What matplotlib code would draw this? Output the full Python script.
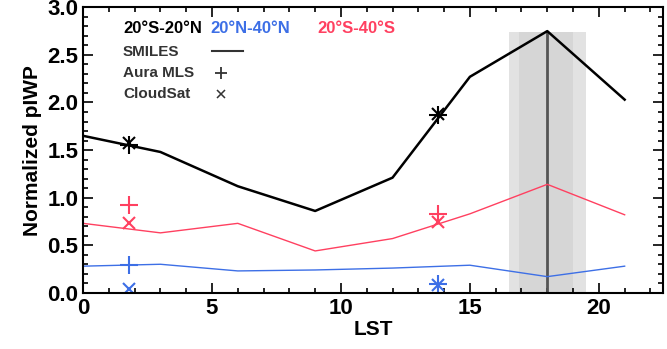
import matplotlib.pyplot as plt
from matplotlib.ticker import MultipleLocator

plt.rcParams['font.family'] = ['Liberation Sans', 'DejaVu Sans']
plt.rcParams['font.weight'] = 'bold'

# SMILES diurnal cycle, 3-hourly local solar time
lst = [0, 3, 6, 9, 12, 15, 18, 21]
smiles_trop = [1.65, 1.48, 1.12, 0.86, 1.21, 2.27, 2.75, 2.03]
smiles_nh = [0.28, 0.30, 0.23, 0.24, 0.26, 0.29, 0.17, 0.28]
smiles_sh = [0.73, 0.63, 0.73, 0.44, 0.57, 0.83, 1.14, 0.82]

# Aura MLS and CloudSat overpass times
overpass = [1.8, 13.75]
mls_trop = [1.55, 1.87]
mls_nh = [0.29, 0.09]
mls_sh = [0.92, 0.83]
cs_trop = [1.57, 1.88]
cs_nh = [0.04, 0.08]
cs_sh = [0.73, 0.74]

peak_lst = 18
band = (16.5, 19.5)
band_top = 2.74

BLACK = 'black'
BLUE = '#3d6fe6'
RED = '#ff4060'

fig = plt.figure(figsize=(6.67, 3.49), dpi=100)
ax = fig.add_axes([0.1245, 0.161, 0.870, 0.818])

ax.axvspan(band[0], band[1], ymax=band_top / 3.0, color='#e2e2e2', lw=0)
ax.axvspan(band[0] + 0.4, band[1] - 0.5, ymax=band_top / 3.0, color='#d6d6d6', lw=0)
ax.plot([peak_lst, peak_lst], [0, band_top], color='#555555', lw=2)

ax.plot(lst, smiles_trop, color=BLACK, lw=1.8)
ax.plot(lst, smiles_nh, color=BLUE, lw=1.0)
ax.plot(lst, smiles_sh, color=RED, lw=1.0)

for vals, c in [(mls_trop, BLACK), (mls_nh, BLUE), (mls_sh, RED)]:
    ax.plot(overpass, vals, ls='none', marker='+', ms=13, mew=1.5, color=c)
for vals, c in [(cs_trop, BLACK), (cs_nh, BLUE), (cs_sh, RED)]:
    ax.plot(overpass, vals, ls='none', marker='x', ms=9, mew=1.5, color=c)

# legend written as text
ax.text(1.55, 2.78, '20°S-20°N', color=BLACK, fontsize=12, va='center')
ax.text(4.95, 2.78, '20°N-40°N', color=BLUE, fontsize=12, va='center')
ax.text(9.1, 2.78, '20°S-40°S', color=RED, fontsize=12, va='center')
ax.text(1.55, 2.53, 'SMILES', color='#333333', fontsize=11, va='center')
ax.text(1.55, 2.31, 'Aura MLS', color='#333333', fontsize=11, va='center')
ax.text(1.55, 2.09, 'CloudSat', color='#333333', fontsize=11, va='center')
ax.plot([5.0, 6.2], [2.54, 2.54], color='#333333', lw=1.5)
ax.plot([5.35], [2.31], marker='+', ms=9, mew=1.3, color='#333333')
ax.plot([5.35], [2.09], marker='x', ms=6, mew=1.1, color='#333333')

ax.set_xlim(0, 22.5)
ax.set_ylim(0, 3.0)
ax.xaxis.set_major_locator(MultipleLocator(5))
ax.xaxis.set_minor_locator(MultipleLocator(1))
ax.yaxis.set_major_locator(MultipleLocator(0.5))
ax.yaxis.set_minor_locator(MultipleLocator(0.1))
ax.yaxis.set_major_formatter(plt.FormatStrFormatter('%.1f'))
ax.tick_params(which='both', direction='in', top=True, right=True, labelsize=16, width=1.2)
ax.tick_params(which='major', length=7)
ax.tick_params(which='minor', length=3.5)
for s in ax.spines.values():
    s.set_linewidth(1.5)

ax.set_xlabel('LST', fontsize=15, fontweight='bold', labelpad=1)
ax.set_ylabel('Normalized pIWP', fontsize=15, fontweight='bold', labelpad=4)

fig.savefig('out.png', dpi=100)
